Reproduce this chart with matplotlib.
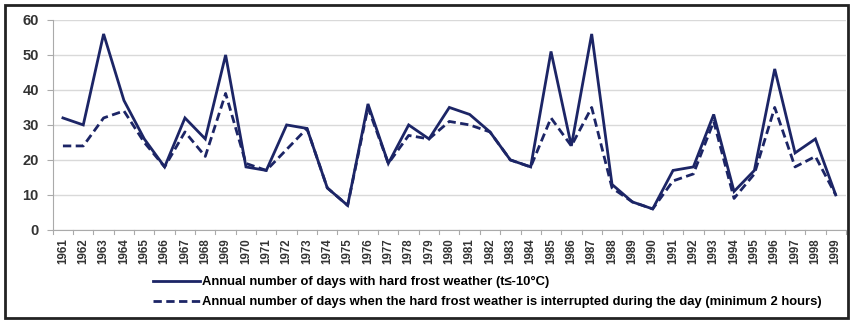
import matplotlib.pyplot as plt
from matplotlib.patches import Rectangle
from matplotlib.lines import Line2D

# ---------- data ----------
years = [str(y) for y in range(1961, 2000)]
hard_frost = [32, 30, 56, 37, 26, 18, 32, 26, 50, 18,
              17, 30, 29, 12, 7, 36, 19, 30, 26, 35,
              33, 28, 20, 18, 51, 24, 56, 13, 8, 6,
              17, 18, 33, 11, 17, 46, 22, 26, 10]
interrupted = [24, 24, 32, 34, 25, 18, 28, 21, 39, 19,
               17, 23, 29, 12, 7, 35, 19, 27, 26, 31,
               30, 28, 20, 18, 32, 24, 35, 12, 8, 6,
               14, 16, 31, 9, 16, 35, 18, 21, 10]
yticks = [0, 10, 20, 30, 40, 50, 60]
label_solid = "Annual number of days with hard frost weather (t≤-10°C)"
label_dash = "Annual number of days when the hard frost weather is interrupted during the day (minimum 2 hours)"

navy = '#1c2566'
plt.rcParams['font.family'] = ['Liberation Sans', 'DejaVu Sans']

fig = plt.figure(figsize=(8.51, 3.22), dpi=100)
ax = fig.add_axes([0.062, 0.286, 0.932, 0.652])

x = list(range(len(years)))
ax.plot(x, hard_frost, color=navy, lw=2.0, solid_joinstyle='miter')
ax.plot(x, interrupted, color=navy, lw=2.0, ls=(0, (3, 1.6)))

ax.set_xlim(-0.5, len(years) - 0.5)
ax.set_ylim(0, 60)
ax.set_yticks(yticks)
ax.set_yticklabels([str(v) for v in yticks], fontsize=10.5, fontweight='bold')
ax.set_xticks(x)
ax.set_xticklabels(years, rotation=90, fontsize=8.3, fontweight='bold')
ax.tick_params(axis='both', colors='#333333', length=4, width=0.8, direction='out')
ax.tick_params(axis='y', pad=6, colors='#aaaaaa', labelcolor='#333333')
ax.tick_params(axis='x', length=0, pad=6)
# små tikkmerker mellom årene
for k in range(len(years) + 1):
    ax.plot([k - 0.5, k - 0.5], [0, -1.2], color='#aaaaaa', lw=0.8, clip_on=False)

ax.grid(axis='y', color='#d9d9d9', lw=1.0)
ax.set_axisbelow(True)
for s in ['top', 'right']:
    ax.spines[s].set_visible(False)
ax.spines['left'].set_color('#aaaaaa')
ax.spines['bottom'].set_color('#aaaaaa')

handles = [Line2D([], [], color=navy, lw=2.0),
           Line2D([], [], color=navy, lw=2.0, ls=(0, (3, 1.6)))]
fig.legend(handles, [label_solid, label_dash], loc='upper left',
           bbox_to_anchor=(0.174, 0.158), frameon=False, handlelength=3.6,
           handletextpad=0.15, labelspacing=0.6, borderaxespad=0,
           prop={'size': 9.4, 'weight': 'bold'})

# ramme rundt figuren
fig.add_artist(Rectangle((0.006, 0.012), 0.99, 0.972, transform=fig.transFigure,
                         fill=False, edgecolor='#222222', lw=2.0))

fig.savefig('out.png', dpi=100)
